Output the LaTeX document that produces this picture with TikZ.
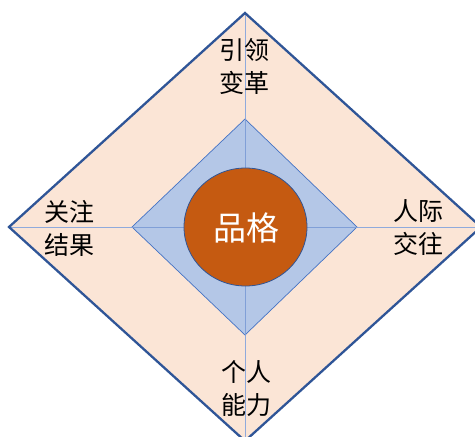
\documentclass[tikz,border=0pt]{standalone}
\usepackage{fontspec}
\usetikzlibrary{shapes.geometric}
\newfontfamily\cjk{Noto Sans CJK SC}
\definecolor{peach}{HTML}{FBE5D6}
\definecolor{outerline}{HTML}{2F5597}
\definecolor{innerfill}{HTML}{B4C7E7}
\definecolor{innerline}{HTML}{4472C4}
\definecolor{axisline}{HTML}{8FAADC}
\definecolor{core}{HTML}{C55A11}
\begin{document}
\begin{tikzpicture}[x=1pt,y=-1pt,
  quadtext/.style={font=\cjk\fontsize{25}{33}\selectfont, align=center, inner sep=0pt, text=black},
  coretextstyle/.style={font=\cjk\fontsize{33}{36}\selectfont, text=white, inner sep=0pt}]
\useasboundingbox (0,0) rectangle (475,437);
% outer diamond
\coordinate (OT) at (245,13);
\coordinate (OL) at (9,227);
\coordinate (OR) at (481,227);
\coordinate (OB) at (245,441);
\fill[peach] (OT) -- (OR) -- (OB) -- (OL) -- cycle;
% axes
\draw[axisline, line width=0.8pt] (OT) -- (OB);
\draw[axisline, line width=0.8pt] (OL) -- (OR);
% inner diamond
\coordinate (IT) at (245,119);
\coordinate (IL) at (132,227);
\coordinate (IR) at (357,227);
\coordinate (IB) at (245,335);
\filldraw[fill=innerfill, draw=innerline, line width=0.7pt] (IT) -- (IR) -- (IB) -- (IL) -- cycle;
\draw[axisline!80!innerline, line width=0.8pt] (IT) -- (IB);
\draw[axisline!80!innerline, line width=0.8pt] (IL) -- (IR);
% outer border
\draw[outerline, line width=2.3pt, line join=miter] (OT) -- (OR) -- (OB) -- (OL) -- cycle;
% core
\node[ellipse, draw=outerline, line width=0.8pt, fill=core, minimum width=123pt, minimum height=118pt, inner sep=0pt] (core) at (245.5,227) {};
\node[coretextstyle] (coretext) at (246.5,228) {品格};
% labels
\node[quadtext] (top) at (244,67) {引领\\变革};
\node[quadtext] (left) at (70,228) {关注\\结果};
\node[quadtext] (right) at (418,228) {人际\\交往};
\node[quadtext] (bottom) at (246,389) {个人\\能力};
\end{tikzpicture}
\end{document}
